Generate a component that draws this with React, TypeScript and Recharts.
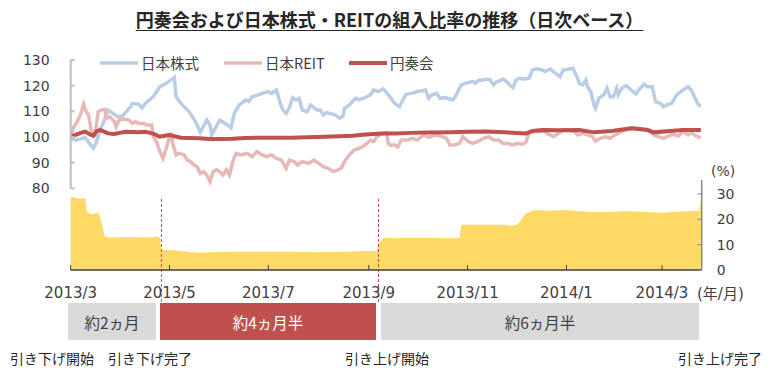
import { LineChart, Line, AreaChart, Area, XAxis, YAxis, ReferenceLine } from 'recharts'

// x = days counted from 2013/3/1
const monthTicks = [0, 61, 122, 184, 245, 306, 365]
const monthLabels = ['2013/3', '2013/5', '2013/7', '2013/9', '2013/11', '2014/1', '2014/3']
const indexTicks = [80, 90, 100, 110, 120, 130]
const ratioTicks = [0, 10, 20, 30]

const seriesNames = ['日本株式', '日本REIT', '円奏会']
const phaseLabels = ['約2ヵ月', '約4ヵ月半', '約6ヵ月半']
const eventLabels = ['引き下げ開始', '引き下げ完了', '引き上げ開始', '引き上げ完了']
const rateEvents = [56, 190]

const stockJP: [number, number][] = [
  [0, 99.5], [3, 98.8], [9, 99.7], [14, 95.6], [16, 98.2], [18, 102.7], [20, 105.3], [23, 110.5],
  [27, 108.8], [29, 107.9], [32, 108.2], [37, 111.8], [38, 113.1], [42, 112.7], [44, 111.4], [46, 113.1],
  [51, 115.7], [55, 119.6], [59, 120.9], [64, 123.2], [65, 115.7], [68, 113.1], [73, 109.9], [77, 106],
  [80, 101.8], [84, 106.6], [86, 104.7], [87, 100.8], [92, 106.6], [96, 105], [99, 103.6], [101, 109.2],
  [104, 112.5], [108, 114.4], [110, 113.8], [112, 115.7], [116, 116.4], [119, 117.2], [122, 117.7], [124, 117],
  [127, 118.3], [129, 113.8], [131, 110.5], [133, 109.2], [135, 111.5], [137, 115.3], [139, 114.4], [141, 115],
  [143, 110.5], [146, 109.9], [148, 112.5], [150, 111.5], [152, 110.5], [154, 110.5], [156, 108.6], [158, 109.5],
  [160, 109.2], [163, 108.6], [166, 107.3], [168, 108], [169, 111.2], [172, 112.5], [176, 115.1], [178, 114.5],
  [181, 115.1], [185, 116.4], [187, 118.3], [190, 117.8], [193, 118.7], [196, 116.4], [197, 115.7], [200, 113.1],
  [203, 111.8], [205, 114.4], [207, 116.6], [210, 117], [214, 117.7], [217, 118], [219, 118.3], [221, 115.1],
  [223, 116.4], [226, 117], [228, 115.1], [231, 115.4], [234, 114.8], [236, 114.4], [238, 116.4], [241, 120.3],
  [244, 121], [248, 121.6], [250, 121], [252, 122.2], [255, 122.2], [257, 122.6], [259, 122.2], [261, 120.3],
  [263, 121.6], [265, 121.9], [267, 122.6], [269, 121.6], [271, 120.3], [273, 119.2], [275, 122.2], [277, 122.9],
  [280, 122.6], [283, 122.9], [285, 126.1], [288, 126.6], [291, 126.1], [293, 125.5], [296, 126.5], [298, 125.5],
  [300, 124.5], [302, 123.5], [304, 126.1], [307, 126.4], [310, 126.8], [312, 124.2], [314, 120.9], [316, 120.3],
  [318, 122.2], [319, 119.6], [321, 117.7], [323, 112.5], [324, 111.2], [326, 115.1], [329, 116.4], [331, 119],
  [333, 115.7], [335, 115.7], [337, 119], [338, 116.4], [340, 119], [343, 120], [346, 118.3], [349, 116.8],
  [351, 118.6], [354, 120.5], [356, 119.6], [359, 119.6], [361, 113.8], [364, 113.1], [366, 111.8], [368, 112.5],
  [371, 113.1], [374, 116.4], [377, 117.9], [381, 119.6], [383, 118.3], [385, 115.7], [387, 113.1], [389, 111.8],
]

const reitJP: [number, number][] = [
  [0, 100.1], [2, 104], [4, 106], [6, 108.6], [8, 112.7], [9, 110.5], [11, 108.6], [13, 101.4],
  [15, 100.8], [16, 105.3], [17, 109.9], [19, 110.5], [21, 110.8], [22, 107.3], [24, 107.8], [25, 107.3],
  [27, 106], [28, 104], [30, 106.6], [33, 107], [36, 106.6], [38, 105.3], [40, 106], [42, 105.3],
  [45, 105.3], [47, 104.7], [50, 104.7], [51, 100.1], [53, 98.2], [55, 94.3], [57, 91.7], [59, 95.6],
  [61, 100.1], [62, 100.8], [63, 97.5], [65, 93], [67, 93.6], [70, 93], [72, 91], [74, 90.4],
  [76, 89.1], [78, 88.4], [80, 85.8], [82, 86.5], [84, 85.2], [86, 82.6], [88, 86.5], [90, 87.2],
  [92, 86.5], [94, 85.2], [96, 87.2], [98, 85.2], [100, 90.4], [102, 93.6], [105, 93], [109, 93.6],
  [112, 92.3], [115, 94.3], [118, 93], [121, 92.3], [124, 93], [127, 91.7], [130, 91], [133, 87.8],
  [135, 91], [138, 90.4], [140, 89.1], [143, 90.4], [147, 89.7], [150, 91], [153, 89.7], [156, 88.4],
  [159, 87.8], [162, 86.5], [165, 87.2], [167, 87.8], [169, 90.4], [172, 93], [175, 94.9], [178, 95.6],
  [180, 96.2], [183, 97.5], [185, 98.8], [187, 98.2], [189, 100.1], [191, 100.8], [193, 101.4], [195, 101.7],
  [196, 97.5], [197, 96.9], [200, 96.9], [202, 96.2], [204, 98.8], [208, 98.8], [211, 99.5], [214, 98.8],
  [218, 100.8], [221, 99.9], [225, 100.8], [228, 100.4], [232, 99.5], [234, 96.9], [237, 96.9], [240, 97.5],
  [242, 100.1], [245, 98.4], [248, 97.5], [251, 98.2], [255, 99.5], [258, 100.1], [261, 98.8], [264, 98.8],
  [267, 97.5], [270, 97.5], [273, 96.9], [276, 97.5], [279, 97.2], [281, 98], [283, 101.7], [286, 102.3],
  [289, 102], [292, 102.3], [294, 101.4], [296, 100.8], [298, 100.1], [301, 101.4], [304, 102.7], [307, 102.7],
  [311, 102.1], [313, 100.8], [316, 101.4], [319, 100.8], [322, 100.1], [324, 98.4], [327, 99.5], [330, 100.1],
  [333, 99.5], [336, 100.8], [339, 101.8], [342, 102.7], [345, 103.1], [348, 103.6], [351, 103.3], [354, 103.1],
  [357, 102.7], [360, 100.8], [363, 100.1], [366, 99.5], [369, 100.4], [372, 101], [375, 100.4], [378, 102.1],
  [381, 100.8], [383, 101.7], [385, 100.8], [387, 100.1], [389, 99.7],
]

const ensoukai: [number, number][] = [
  [0, 100.1], [3, 100.8], [7, 101.8], [9, 102.1], [12, 101], [14, 100.5], [16, 102.3], [18, 102.7],
  [20, 102.3], [23, 101.4], [27, 101.2], [30, 101.6], [34, 102], [38, 101.9], [42, 101.8], [46, 102],
  [49, 101.6], [52, 101], [55, 100.1], [58, 100.5], [61, 100.8], [64, 100.3], [68, 99.7], [73, 99.6],
  [79, 99.5], [86, 99.2], [93, 99.2], [100, 99.3], [108, 99.6], [116, 99.7], [125, 99.7], [136, 99.7],
  [146, 99.9], [157, 100.1], [166, 100.3], [174, 100.5], [182, 101], [192, 101.4], [200, 101.4], [210, 101.6],
  [220, 101.7], [235, 101.8], [245, 102], [256, 102.1], [268, 101.8], [281, 101.4], [285, 102.3], [291, 102.7],
  [300, 102.6], [314, 102.7], [323, 101.8], [334, 102.3], [346, 103.4], [356, 102.7], [360, 101.8], [370, 102.3],
  [378, 102.7], [389, 102.7],
]

const equityRatio: [number, number][] = [
  [0, 28.9], [3, 28.5], [6, 28], [8, 28.3], [9, 28.3], [10, 23], [13, 22], [16, 22.4],
  [17, 23], [19, 19.1], [21, 13.2], [24, 12.8], [30, 12.9], [35, 13], [43, 12.9], [49, 12.8],
  [53, 13.2], [55, 12.8], [56, 7.9], [63, 7.8], [72, 7.2], [80, 6.8], [86, 7], [100, 7.2],
  [117, 7.2], [137, 7.2], [150, 7], [172, 7.2], [179, 7.5], [189, 7.5], [190, 10.5], [193, 12.5],
  [197, 12.8], [199, 12.5], [205, 12.7], [222, 12.7], [234, 12.5], [240, 12.7], [241, 17.8], [253, 17.8],
  [265, 17.8], [273, 17.5], [276, 18], [281, 22.4], [287, 23.7], [294, 23.4], [306, 23.7], [314, 23.3],
  [323, 22.8], [335, 23], [341, 23.3], [351, 23], [366, 22.6], [372, 23], [385, 23.3], [388, 23.3],
  [389, 28],
]

const toRows = (pts: [number, number][]) => pts.map(([d, v]) => ({ d, v }))

const jp = '"Noto Sans CJK JP", sans-serif'
const num = '"DejaVu Sans", "Noto Sans CJK JP", sans-serif'
const colors = ['#B9CDE5', '#E6B9B8', '#C0504D']
const xDomain: [number, number] = [0, 389.5]

function EventLine(props: any) {
  const top = Math.min(props.y1, props.y2)
  const bottom = Math.max(props.y1, props.y2)
  return (
    <line x1={props.x1} x2={props.x2} y1={top + 19} y2={bottom + 32}
      stroke="#C0504D" strokeWidth={1} strokeDasharray="3 2" />
  )
}

export default function App() {
  const seriesData = [stockJP, reitJP, ensoukai]
  return (
    <div style={{ position: 'absolute', left: 0, top: 0, width: 779, height: 374, background: '#fff', overflow: 'hidden' }}>
      <div style={{ position: 'absolute', left: 0, top: 8, width: 779, textAlign: 'center', fontFamily: jp, fontWeight: 700, fontSize: 18, lineHeight: '22px', color: '#262626', textDecoration: 'underline', textUnderlineOffset: 3 }}>
        円奏会および日本株式・REITの組入比率の推移（日次ベース）
      </div>

      <div style={{ position: 'absolute', left: 0, top: 0 }}>
        <LineChart width={779} height={200} margin={{ top: 60, right: 77.3, bottom: 11.7, left: 0 }}>
          <XAxis type="number" dataKey="d" domain={xDomain} hide allowDataOverflow />
          <YAxis domain={[80, 130]} ticks={indexTicks} interval={0} width={70.7}
            axisLine={{ stroke: '#BFBFBF', strokeWidth: 2 }} tickLine={{ stroke: '#BFBFBF', strokeWidth: 2 }}
            tickSize={-4} tickMargin={25} tick={{ fill: '#404040', fontSize: 14, fontFamily: num }} />
          {seriesData.map((s, i) => (
            <Line key={seriesNames[i]} data={toRows(s)} dataKey="v" name={seriesNames[i]} type="linear"
              stroke={colors[i]} strokeWidth={i === 2 ? 4 : 3.5} dot={false} activeDot={false}
              isAnimationActive={false} />
          ))}
        </LineChart>
      </div>

      <div style={{ position: 'absolute', left: 0, top: 0 }}>
        <AreaChart width={779} height={374} margin={{ top: 180, right: 27.3, bottom: 74, left: 70.7 }}>
          <XAxis type="number" dataKey="d" domain={xDomain} ticks={monthTicks} interval={0} height={30}
            tickFormatter={(v: number) => monthLabels[monthTicks.indexOf(v)]}
            axisLine={{ stroke: '#404040', strokeWidth: 1.5 }} tickLine={{ stroke: '#404040' }}
            tickSize={-5} tickMargin={22} tick={{ fill: '#404040', fontSize: 15, fontFamily: num }} />
          <YAxis yAxisId="pct" orientation="right" domain={[0, 35.5]} ticks={ratioTicks} interval={0} width={50}
            axisLine={{ stroke: '#868686', strokeWidth: 1.5 }} tickLine={{ stroke: '#868686' }}
            tickSize={-4} tickMargin={19} tick={{ fill: '#404040', fontSize: 14, fontFamily: num }} />
          <Area yAxisId="pct" data={toRows(equityRatio)} dataKey="v" type="linear" stroke="none"
            fill="#FFD966" fillOpacity={1} isAnimationActive={false} activeDot={false} />
          {rateEvents.map((d) => (
            <ReferenceLine key={d} yAxisId="pct" x={d} shape={EventLine} />
          ))}
        </AreaChart>
      </div>

      {seriesNames.map((name, i) => (
        <div key={name} style={{ position: 'absolute', top: 54, left: [100, 224, 349][i], display: 'flex', alignItems: 'center', height: 18 }}>
          <svg width={38} height={6} style={{ marginRight: 3 }}>
            <line x1={0} x2={38} y1={3} y2={3} stroke={colors[i]} strokeWidth={i === 2 ? 4 : 3.5} />
          </svg>
          <span style={{ fontFamily: jp, fontSize: 14.5, color: '#404040', lineHeight: '18px' }}>{name}</span>
        </div>
      ))}

      <div style={{ position: 'absolute', left: 711, top: 163, fontFamily: num, fontSize: 14, color: '#404040' }}>(%)</div>
      <div style={{ position: 'absolute', left: 697, top: 282, fontFamily: num, fontSize: 15, color: '#404040' }}>(年/月)</div>

      {phaseLabels.map((label, i) => (
        <div key={label} style={{
          position: 'absolute', top: 303, height: 37, left: [68, 160, 381][i], width: [88, 216, 318][i],
          background: i === 1 ? '#C0504D' : '#D9D9D9', color: i === 1 ? '#fff' : '#404040',
          display: 'flex', alignItems: 'center', justifyContent: 'center', fontFamily: jp, fontSize: 15.5,
        }}>{label}</div>
      ))}

      {eventLabels.map((label, i) => (
        <div key={label} style={{
          position: 'absolute', top: 349, width: 100, left: [52, 150, 387, 720][i] - 50, textAlign: 'center',
          fontFamily: jp, fontSize: 14, color: '#262626', lineHeight: '18px', whiteSpace: 'nowrap',
        }}>{label}</div>
      ))}
    </div>
  )
}
